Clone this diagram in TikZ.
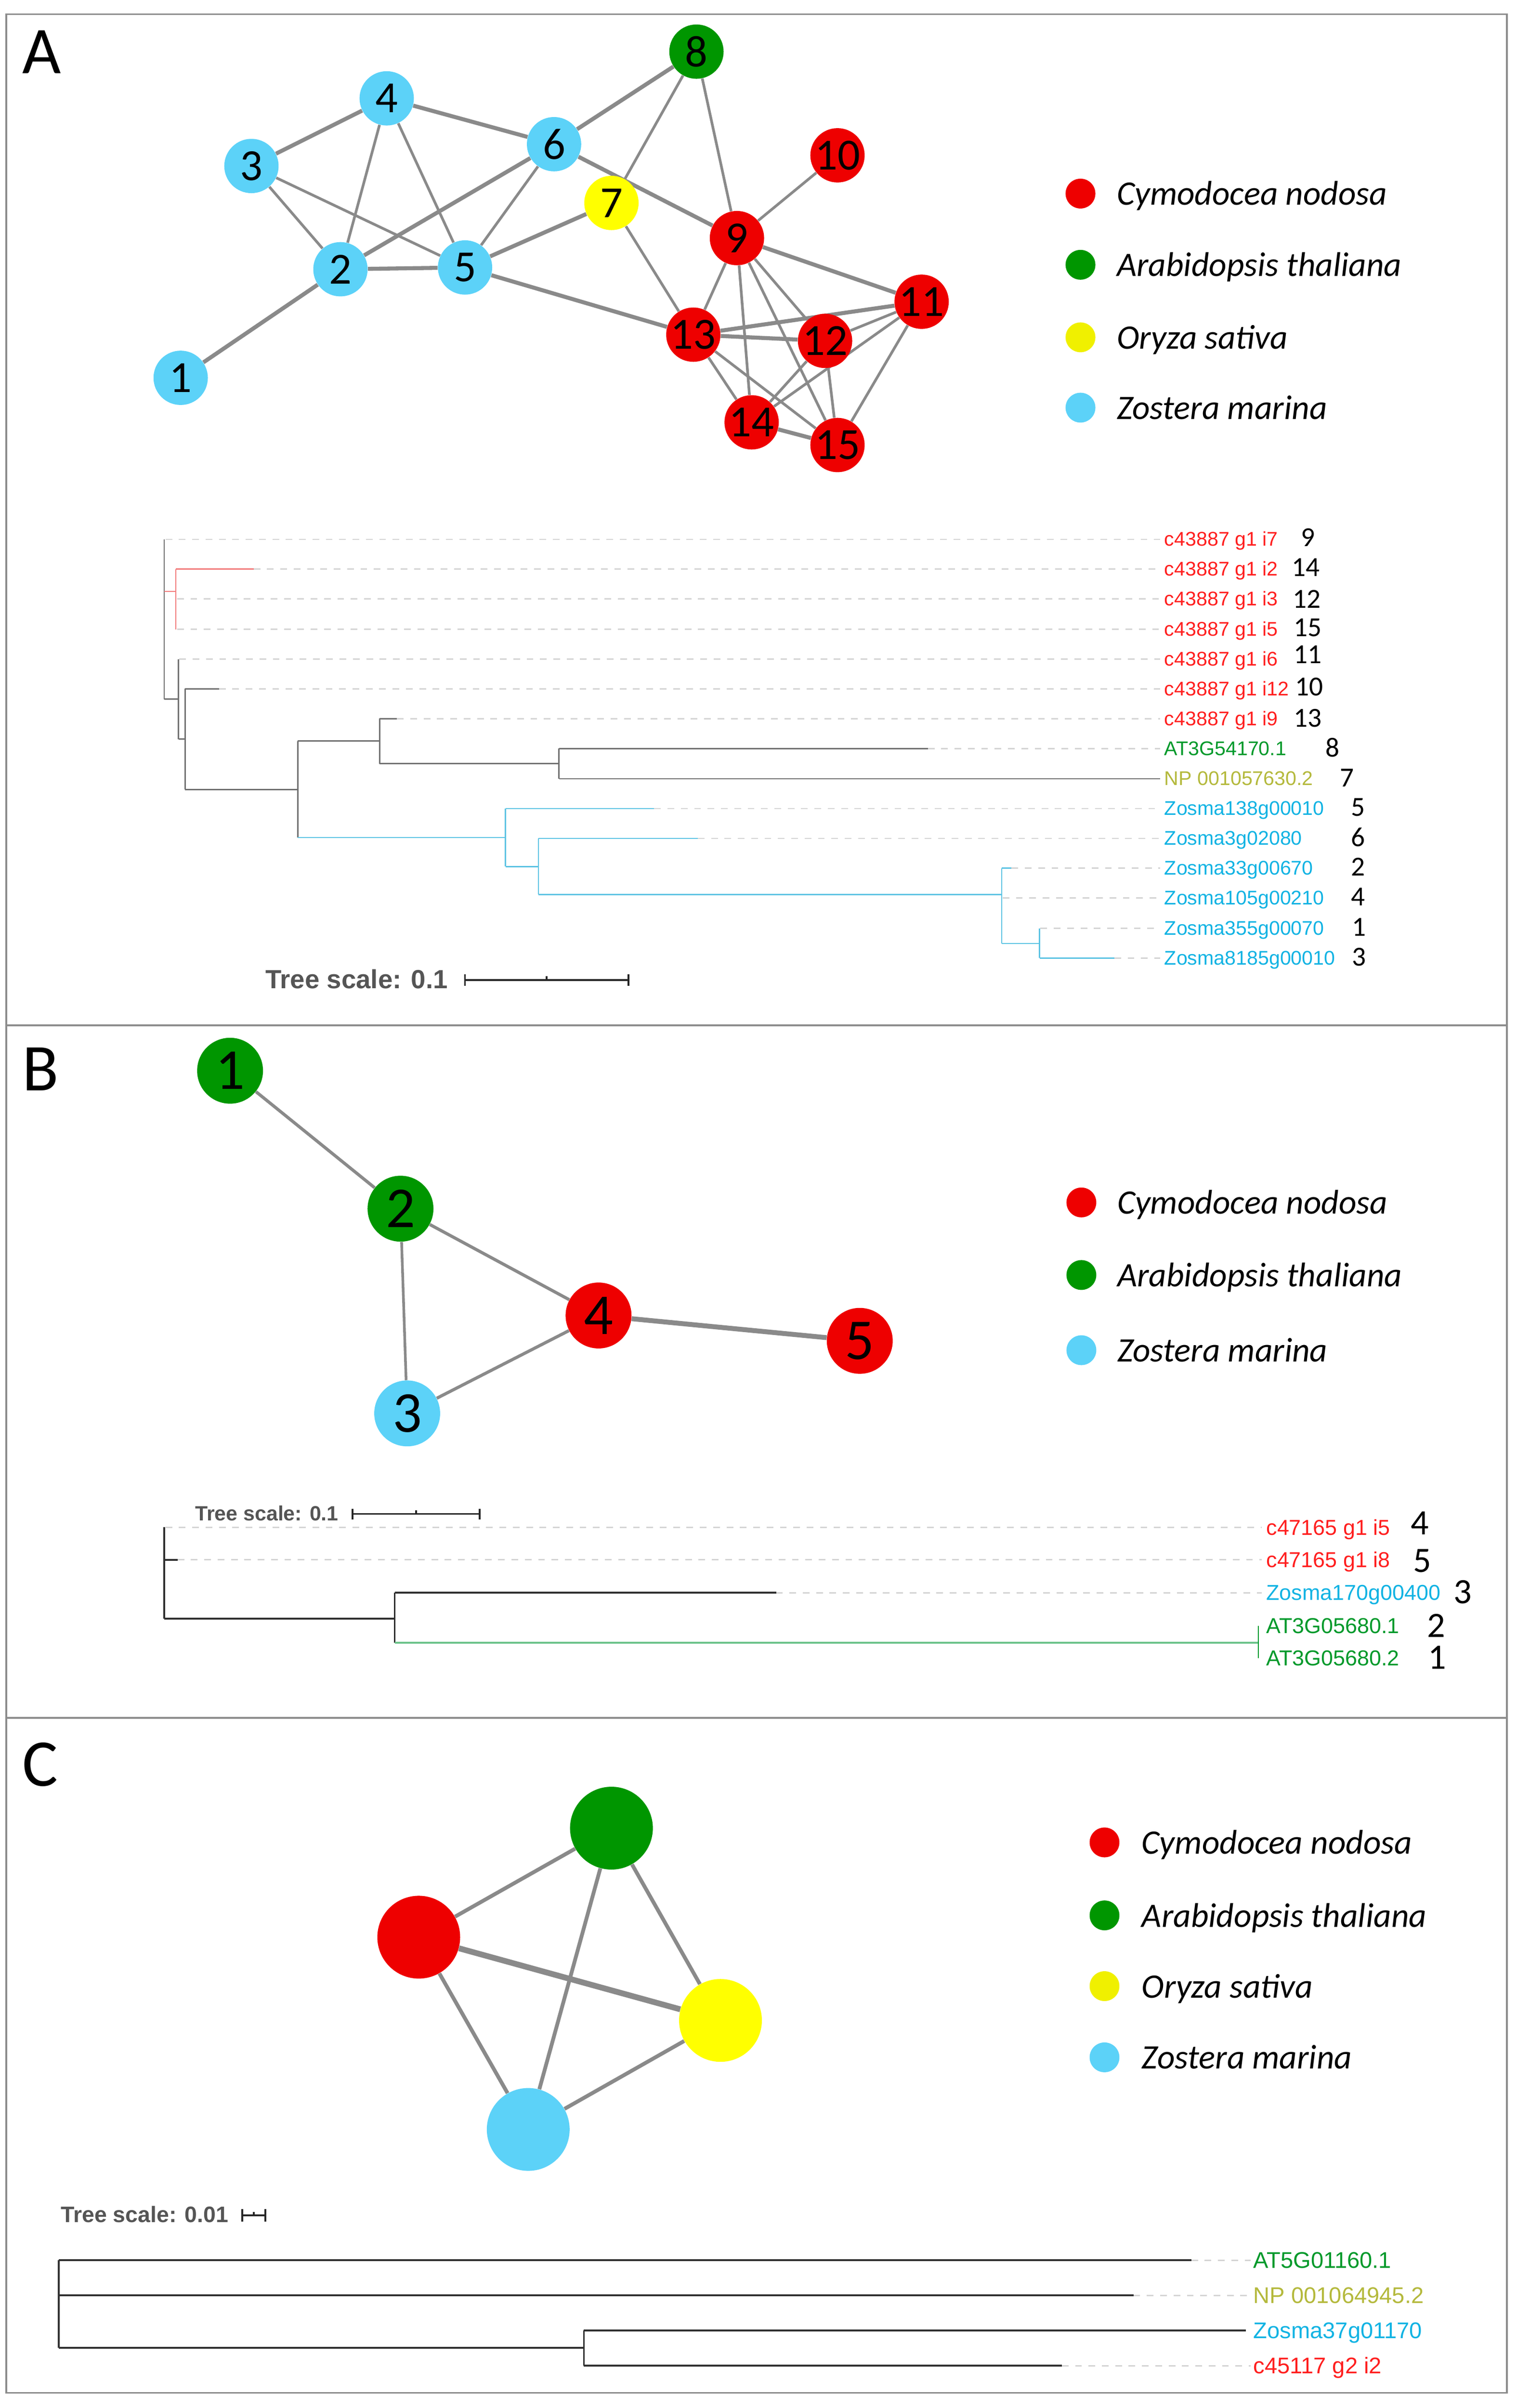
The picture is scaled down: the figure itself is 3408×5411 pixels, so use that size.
\documentclass[tikz,border=0pt]{standalone}
\usepackage{fontspec}
\newfontfamily\carl{Carlito}
\newfontfamily\lib{Liberation Sans}
\usetikzlibrary{backgrounds}
\definecolor{nred}{HTML}{EE0000}
\definecolor{ngreen}{HTML}{009600}
\definecolor{nyellow}{HTML}{FFFF00}
\definecolor{lyellow}{HTML}{F0F000}
\definecolor{ncyan}{HTML}{5CD2F8}
\definecolor{edgegray}{HTML}{8A8A8A}
\definecolor{framegray}{HTML}{8C8C8C}
\definecolor{tred}{HTML}{FF1E1E}
\definecolor{tgreen}{HTML}{00992A}
\definecolor{tolive}{HTML}{B4B93C}
\definecolor{tblue}{HTML}{12B3E3}
\definecolor{bred}{HTML}{F27A7A}
\definecolor{bblue}{HTML}{5CC3E3}
\definecolor{bgreen}{HTML}{6CC38A}
\definecolor{tgray}{HTML}{707070}
\definecolor{tdark}{HTML}{303030}
\definecolor{dashgray}{HTML}{D4D4D4}
\definecolor{scalegray}{HTML}{555555}
\begin{document}
\begin{tikzpicture}[x=0.01cm,y=-0.01cm,
  netA/.style={circle,inner sep=0pt,minimum size=1.22cm,font=\carl\fontsize{28.45}{30}\selectfont},
  netB/.style={circle,inner sep=0pt,minimum size=1.48cm,font=\carl\fontsize{37}{39}\selectfont},
  netC/.style={circle,inner sep=0pt,minimum size=1.86cm},
  ethin/.style={draw=edgegray,line width=0.06cm},
  ethick/.style={draw=edgegray,line width=0.09cm},
  ebthin/.style={draw=edgegray,line width=0.07cm},
  ebthick/.style={draw=edgegray,line width=0.11cm},
  ecthin/.style={draw=edgegray,line width=0.085cm},
  ecthick/.style={draw=edgegray,line width=0.13cm},
  legdot/.style={circle,inner sep=0pt,minimum size=0.67cm},
  legtxt/.style={anchor=base west,inner sep=0pt,font=\carl\itshape\fontsize{21.9}{24}\selectfont},
  panel/.style={anchor=base west,inner sep=0pt,font=\carl\fontsize{42.7}{44}\selectfont},
  tlA/.style={line width=0.03cm},
  tlB/.style={line width=0.04cm,draw=tdark},
  leader/.style={draw=dashgray,line width=0.03cm,dash pattern=on 0.15cm off 0.15cm},
  labA/.style={anchor=base west,inner sep=0pt,font=\lib\fontsize{12.66}{14}\selectfont},
  labB/.style={anchor=base west,inner sep=0pt,font=\lib\fontsize{13.8}{15}\selectfont},
  labC/.style={anchor=base west,inner sep=0pt,font=\lib\fontsize{14.5}{16}\selectfont},
  numA/.style={inner sep=0pt,font=\carl\fontsize{17.6}{19}\selectfont},
  numB/.style={inner sep=0pt,font=\carl\fontsize{22.8}{24}\selectfont},
  scaletxt/.style={anchor=base west,inner sep=0pt,text=scalegray},
  scalebar/.style={draw=black!85,line width=0.04cm}
]
\useasboundingbox (0,0) rectangle (3408,5411);

% frame
\draw[framegray,line width=0.04cm] (14,32) rectangle (3386,5377);
\draw[framegray,line width=0.04cm] (14,2304) -- (3386,2304);
\draw[framegray,line width=0.04cm] (14,3860) -- (3386,3860);

% panel letters
\node[panel] (pA) at (50,165) {A};
\node[panel] (pB) at (50,2451) {B};
\node[panel] (pC) at (50,4013) {C};

% ================= Panel A network =================
\node[netA,fill=ncyan]   (a1)  at (406,849)  {1};
\node[netA,fill=ncyan]   (a2)  at (765,605)  {2};
\node[netA,fill=ncyan]   (a3)  at (565,373)  {3};
\node[netA,fill=ncyan]   (a4)  at (869,221)  {4};
\node[netA,fill=ncyan]   (a5)  at (1045,601) {5};
\node[netA,fill=ncyan]   (a6)  at (1245,324) {6};
\node[netA,fill=nyellow] (a7)  at (1374,456) {7};
\node[netA,fill=ngreen]  (a8)  at (1565,116) {8};
\node[netA,fill=nred]    (a9)  at (1656,535) {9};
\node[netA,fill=nred]    (a10) at (1882,349) {10};
\node[netA,fill=nred]    (a11) at (2071,678) {11};
\node[netA,fill=nred]    (a12) at (1854,766) {12};
\node[netA,fill=nred]    (a13) at (1558,752) {13};
\node[netA,fill=nred]    (a14) at (1689,949) {14};
\node[netA,fill=nred]    (a15) at (1882,1000) {15};
\begin{scope}[on background layer]
\foreach \u/\v in {a2/a3,a2/a4,a4/a5,a5/a6,a7/a8,a8/a9,a7/a13,a9/a13,a9/a14,a9/a15,a9/a12,a9/a10,a11/a12,a11/a14,a11/a15,a12/a14,a12/a15,a13/a14,a13/a15,a3/a5}
  \draw[ethin] (\u) -- (\v);
\foreach \u/\v in {a1/a2,a2/a5,a2/a6,a3/a4,a4/a6,a5/a7,a5/a13,a6/a8,a6/a9,a9/a11,a11/a13,a12/a13,a14/a15}
  \draw[ethick] (\u) -- (\v);
\end{scope}

% legend A
\node[legdot,fill=nred]    (lA1) at (2428,435) {};
\node[legdot,fill=ngreen]  (lA2) at (2428,595) {};
\node[legdot,fill=lyellow] (lA3) at (2428,758) {};
\node[legdot,fill=ncyan]   (lA4) at (2428,916) {};
\node[legtxt] (tA1) at (2509,461) {Cymodocea nodosa};
\node[legtxt] (tA2) at (2509,621) {Arabidopsis thaliana};
\node[legtxt] (tA3) at (2509,784) {Oryza sativa};
\node[legtxt] (tA4) at (2509,942) {Zostera marina};

% ================= Panel A tree =================
\draw[tgray,tlA] (369,1212) -- (369,1571);
\draw[bred,tlA] (369,1329) -- (395,1329) (395,1279) -- (395,1414) (395,1279) -- (570,1279);
\draw[tgray,tlA] (369,1571) -- (401,1571) (401,1481) -- (401,1661)
  (401,1661) -- (416,1661) (416,1548) -- (416,1774) (416,1548) -- (492,1548)
  (416,1774) -- (669,1774) (669,1665) -- (669,1882)
  (669,1665) -- (853,1665) (853,1615) -- (853,1716) (853,1615) -- (892,1615)
  (853,1716) -- (1256,1716) (1256,1682) -- (1256,1750) (1256,1682) -- (2085,1682) (1256,1750) -- (2607,1750);
\draw[bblue,tlA] (669,1882) -- (1136,1882) (1136,1817) -- (1136,1947) (1136,1817) -- (1470,1817)
  (1136,1947) -- (1210,1947) (1210,1884) -- (1210,2010) (1210,1884) -- (1568,1884)
  (1210,2010) -- (2251,2010) (2251,1951) -- (2251,2120) (2251,1951) -- (2273,1951)
  (2251,2120) -- (2336,2120) (2336,2086) -- (2336,2153) (2336,2153) -- (2504,2153);
\foreach \xs/\y in {372/1212,570/1279,398/1346,398/1414,403/1481,492/1548,892/1615,2085/1682,1470/1817,1568/1884,2273/1951,2253/2018,2338/2086,2504/2153}
  \draw[leader] (\xs,\y) -- (2607,\y);
\foreach \i/\y/\c/\t in {1/1212/tred/c43887 g1 i7,2/1279/tred/c43887 g1 i2,3/1346/tred/c43887 g1 i3,4/1414/tred/c43887 g1 i5,5/1481/tred/c43887 g1 i6,6/1548/tred/c43887 g1 i12,7/1615/tred/c43887 g1 i9,8/1682/tgreen/AT3G54170.1,9/1750/tolive/NP 001057630.2,10/1817/tblue/Zosma138g00010,11/1884/tblue/Zosma3g02080,12/1951/tblue/Zosma33g00670,13/2018/tblue/Zosma105g00210,14/2086/tblue/Zosma355g00070,15/2153/tblue/Zosma8185g00010}
  \node[labA,text=\c] (la\i) at (2616,\y+15) {\t};
\foreach \i/\x/\y/\n in {1/2939/1208/9,2/2934/1275/14,3/2936/1346/12,4/2939/1410/15,5/2939/1471/11,6/2942/1543/10,7/2939/1614/13,8/2994/1680/8,9/3027/1748/7,10/3052/1814/5,11/3052/1881/6,12/3052/1948/2,13/3052/2015/4,14/3054/2083/1,15/3054/2150/3}
  \node[numA] (na\i) at (\x,\y) {\n};

% scale A
\node[scaletxt,font=\lib\bfseries\fontsize{16.8}{18}\selectfont] (sA) at (596,2221) {Tree scale: 0.1};
\draw[scalebar] (1045,2202) -- (1412,2202) (1045,2189) -- (1045,2215) (1412,2189) -- (1412,2215) (1228,2202) -- (1228,2194);

% ================= Panel B network =================
\node[netB,fill=ngreen] (b1) at (517,2406) {1};
\node[netB,fill=ngreen] (b2) at (900,2716) {2};
\node[netB,fill=ncyan]  (b3) at (915,3176) {3};
\node[netB,fill=nred]   (b4) at (1345,2956) {4};
\node[netB,fill=nred]   (b5) at (1932,3013) {5};
\begin{scope}[on background layer]
\draw[ebthin] (b1) -- (b2);
\draw[ebthin] (b2) -- (b4);
\draw[ethin] (b2) -- (b3);
\draw[ebthin] (b3) -- (b4);
\draw[ebthick] (b4) -- (b5);
\end{scope}

% legend B
\node[legdot,fill=nred]   (lB1) at (2430,2702) {};
\node[legdot,fill=ngreen] (lB2) at (2430,2865) {};
\node[legdot,fill=ncyan]  (lB3) at (2430,3034) {};
\node[legtxt] (tB1) at (2510,2728) {Cymodocea nodosa};
\node[legtxt] (tB2) at (2510,2891) {Arabidopsis thaliana};
\node[legtxt] (tB3) at (2510,3060) {Zostera marina};

% ================= Panel B tree =================
\node[scaletxt,font=\lib\bfseries\fontsize{13.2}{15}\selectfont] (sB) at (438,3417) {Tree scale: 0.1};
\draw[scalebar] (792,3402) -- (1078,3402) (792,3390) -- (792,3414) (1078,3390) -- (1078,3414) (935,3402) -- (935,3394);
\draw[tlB] (369,3432) -- (369,3637) (369,3505) -- (399,3505) (369,3637) -- (887,3637)
  (887,3579) -- (887,3691) (887,3579) -- (1744,3579);
\draw[bgreen,line width=0.04cm] (887,3691) -- (2828,3691);
\draw[tgreen,line width=0.02cm] (2828,3653) -- (2828,3726);
\foreach \xs/\y in {372/3432,399/3505,1744/3579}
  \draw[leader] (\xs,\y) -- (2835,\y);
\foreach \i/\y/\c/\t in {1/3432/tred/c47165 g1 i5,2/3505/tred/c47165 g1 i8,3/3579/tblue/Zosma170g00400,4/3653/tgreen/AT3G05680.1,5/3726/tgreen/AT3G05680.2}
  \node[labB,text=\c] (lb\i) at (2845,\y+17) {\t};
\foreach \i/\x/\y/\n in {1/3191/3423/4,2/3196/3507/5,3/3287/3577/3,4/3227/3653/2,5/3230/3724/1}
  \node[numB] (nb\i) at (\x,\y) {\n};

% ================= Panel C network =================
\node[netC,fill=ngreen]  (c1) at (1374,4108) {};
\node[netC,fill=nred]    (c2) at (941,4353) {};
\node[netC,fill=nyellow] (c3) at (1619,4540) {};
\node[netC,fill=ncyan]   (c4) at (1187,4785) {};
\begin{scope}[on background layer]
\draw[ecthin] (c2) -- (c1);
\draw[ecthin] (c1) -- (c3);
\draw[ecthin] (c1) -- (c4);
\draw[ecthick] (c2) -- (c3);
\draw[ecthin] (c2) -- (c4);
\draw[ecthin] (c3) -- (c4);
\end{scope}

% legend C
\node[legdot,fill=nred]    (lC1) at (2482,4140) {};
\node[legdot,fill=ngreen]  (lC2) at (2482,4304) {};
\node[legdot,fill=lyellow] (lC3) at (2482,4463) {};
\node[legdot,fill=ncyan]   (lC4) at (2482,4623) {};
\node[legtxt] (tC1) at (2565,4166) {Cymodocea nodosa};
\node[legtxt] (tC2) at (2565,4330) {Arabidopsis thaliana};
\node[legtxt] (tC3) at (2565,4489) {Oryza sativa};
\node[legtxt] (tC4) at (2565,4649) {Zostera marina};

% ================= Panel C tree =================
\node[scaletxt,font=\lib\bfseries\fontsize{14.3}{16}\selectfont] (sC) at (136,4994) {Tree scale: 0.01};
\draw[scalebar] (544,4978) -- (596,4978) (544,4964) -- (544,4992) (596,4964) -- (596,4992) (570,4978) -- (570,4970);
\draw[tlB] (132,5079) -- (132,5276) (132,5079) -- (2677,5079) (132,5158) -- (2547,5158)
  (132,5276) -- (1312,5276) (1312,5237) -- (1312,5316) (1312,5237) -- (2800,5237) (1312,5316) -- (2386,5316);
\foreach \xs/\y in {2677/5079,2547/5158,2386/5316}
  \draw[leader] (\xs,\y) -- (2810,\y);
\foreach \i/\y/\c/\t in {1/5079/tgreen/AT5G01160.1,2/5158/tolive/NP 001064945.2,3/5237/tblue/Zosma37g01170,4/5316/tred/c45117 g2 i2}
  \node[labC,text=\c] (lc\i) at (2816,\y+18) {\t};
\end{tikzpicture}
\end{document}
